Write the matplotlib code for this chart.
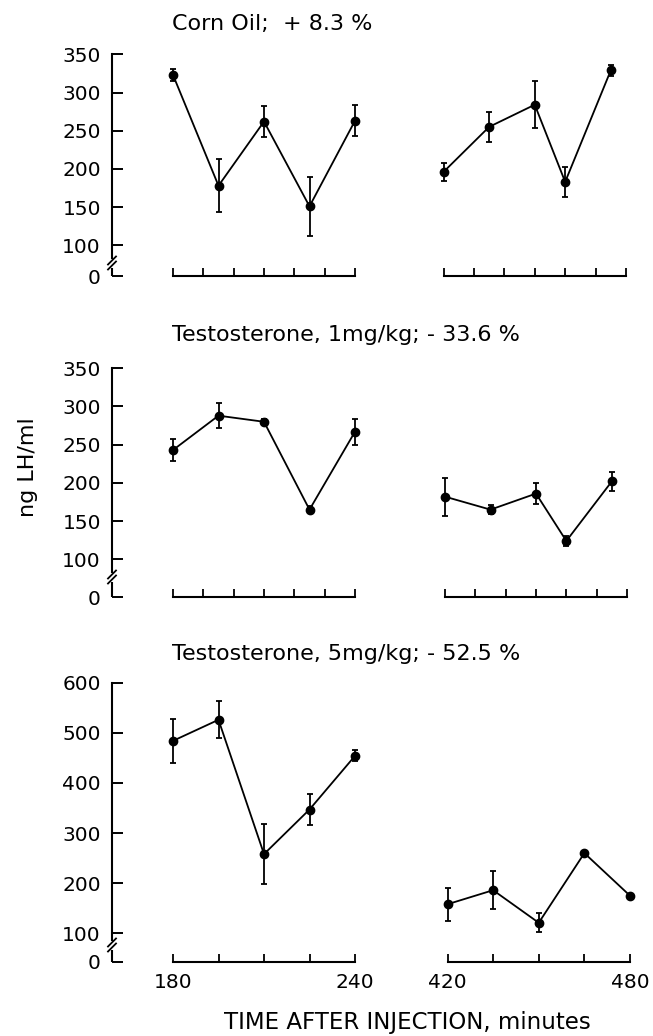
import matplotlib
matplotlib.use("Agg")
import matplotlib.pyplot as plt

# figure size in pixels (dpi 100)
W, H = 653, 1036

# sampling times, minutes after injection
early_t = [180, 195, 210, 225, 240]
late_t_a = [420, 435, 450, 460, 475]
late_t_b = [420, 435, 450, 465, 480]

# ng LH/ml, mean and error
corn_early = [323, 178, 262, 151, 263]
corn_early_err = [8, 35, 20, 39, 20]
corn_late = [196, 255, 284, 183, 329]
corn_late_err = [12, 20, 31, 20, 7]

t1_early = [243, 288, 280, 165, 267]
t1_early_err = [14, 16, 4, 5, 17]
t1_late = [182, 165, 186, 124, 202]
t1_late_err = [25, 6, 14, 7, 12]

t5_early = [484, 526, 258, 347, 454]
t5_early_err = [44, 37, 60, 31, 11]
t5_late = [158, 186, 121, 260, 175]
t5_late_err = [33, 38, 19, 3, 0]

titles = ["Corn Oil;  + 8.3 %",
          "Testosterone, 1mg/kg; - 33.6 %",
          "Testosterone, 5mg/kg; - 52.5 %"]
yticks_350 = [100, 150, 200, 250, 300, 350]
yticks_600 = [100, 200, 300, 400, 500, 600]
xlabel = "TIME AFTER INJECTION, minutes"
ylabel = "ng LH/ml"

plt.rcParams['font.family'] = 'DejaVu Sans'
LW = 1.5


def lim_from(pa, va, pb, vb, plo, phi):
    k = (vb - va) / (pb - pa)
    return va + (plo - pa) * k, va + (phi - pa) * k


def px_axes(fig, x0, x1, ybot, ytop):
    return fig.add_axes([x0 / W, 1 - ybot / H, (x1 - x0) / W, (ybot - ytop) / H])


fig = plt.figure(figsize=(W / 100, H / 100), dpi=100)

# pixel layout of each panel
panels = [
    dict(p100=245.3, ptop=54.3, top=350, p0=276.0, pbrk=263.0, ty=23.5, r0=443.5, r1=626.0,
         yt=yticks_350, step=10, late_t=late_t_a,
         data=(corn_early, corn_early_err, corn_late, corn_late_err)),
    dict(p100=559.3, ptop=368.3, top=350, p0=597.3, pbrk=577.0, ty=335.0, r0=445.0, r1=627.0,
         yt=yticks_350, step=10, late_t=late_t_a,
         data=(t1_early, t1_early_err, t1_late, t1_late_err)),
    dict(p100=933.3, ptop=682.7, top=600, p0=961.7, pbrk=945.0, ty=654.5, r0=447.5, r1=630.0,
         yt=yticks_600, step=15, late_t=late_t_b,
         data=(t5_early, t5_early_err, t5_late, t5_late_err)),
]

for i, p in enumerate(panels):
    last = i == len(panels) - 1
    ylo, yhi = lim_from(p['p100'], 100, p['ptop'], p['top'], p['p0'], p['ptop'])
    fake0 = ylo
    ypx = (yhi - ylo) / (p['p0'] - p['ptop'])  # data units per pixel

    # left segment 180-240
    axl = px_axes(fig, 112, 362, p['p0'], p['ptop'])
    xl0, xl1 = lim_from(173, 180, 355, 240, 112, 362)
    axl.set_xlim(xl0, xl1)
    axl.set_ylim(ylo, yhi)
    # right segment 420-480
    axr = px_axes(fig, 436, 641, p['p0'], p['ptop'])
    xr0, xr1 = lim_from(p['r0'], 420, p['r1'], 480, 436, 641)
    axr.set_xlim(xr0, xr1)
    axr.set_ylim(ylo, yhi)

    ey, ee, ly, le = p['data']
    for ax, xs, ys, es in [(axl, early_t, ey, ee), (axr, p['late_t'], ly, le)]:
        ax.errorbar(xs, ys, yerr=es, fmt='-o', color='black', ms=6, lw=1.3,
                    elinewidth=1.3, capsize=2.2, capthick=1.3)
        for s in ['top', 'right']:
            ax.spines[s].set_visible(False)
        ax.spines['bottom'].set_linewidth(LW)
        ax.tick_params(axis='x', direction='in', length=6, width=1.3, pad=8,
                       labelsize=14.5)

    axl.spines['bottom'].set_bounds(180, 240)
    axr.spines['bottom'].set_bounds(420, 480)
    xt_l = list(range(180, 241, p['step']))
    xt_r = list(range(420, 481, p['step']))
    axl.set_xticks(xt_l)
    axr.set_xticks(xt_r)
    if last:
        axl.set_xticklabels(['180'] + [''] * (len(xt_l) - 2) + ['240'])
        axr.set_xticklabels(['420'] + [''] * (len(xt_r) - 2) + ['480'])
    else:
        axl.set_xticklabels([])
        axr.set_xticklabels([])

    # y axis with break between 0 and 100
    axr.spines['left'].set_visible(False)
    axr.set_yticks([])
    axl.spines['left'].set_linewidth(LW)
    axl.set_yticks([fake0] + p['yt'])
    axl.set_yticklabels(['0'] + [str(v) for v in p['yt']])
    axl.tick_params(axis='y', direction='in', length=8, width=1.4, pad=8, labelsize=14.5)

    brk = lim_from(p['p100'], 100, p['ptop'], p['top'], p['pbrk'], p['pbrk'])[0]
    gap = 5 * ypx
    axl.spines['left'].set_bounds(brk + gap, p['top'])
    axl.plot([xl0, xl0], [fake0, brk - gap], color='black', lw=LW,
             solid_capstyle='butt', clip_on=False)
    xpx = (xl1 - xl0) / 250.0
    for off in (-2.5, 2.5):
        yc = brk + off * ypx
        axl.plot([xl0 - 4 * xpx, xl0 + 4 * xpx], [yc - 4 * ypx, yc + 4 * ypx],
                 color='black', lw=1.3, clip_on=False)

    fig.text(172 / W, 1 - p['ty'] / H, titles[i], fontsize=16,
             ha='left', va='center')

fig.text(28 / W, 1 - 467 / H, ylabel, rotation=90, fontsize=16,
         ha='center', va='center')
fig.text(407 / W, 1 - 1022 / H, xlabel, fontsize=16.5, ha='center', va='center')

fig.savefig("out.png", dpi=100)
plt.close(fig)
